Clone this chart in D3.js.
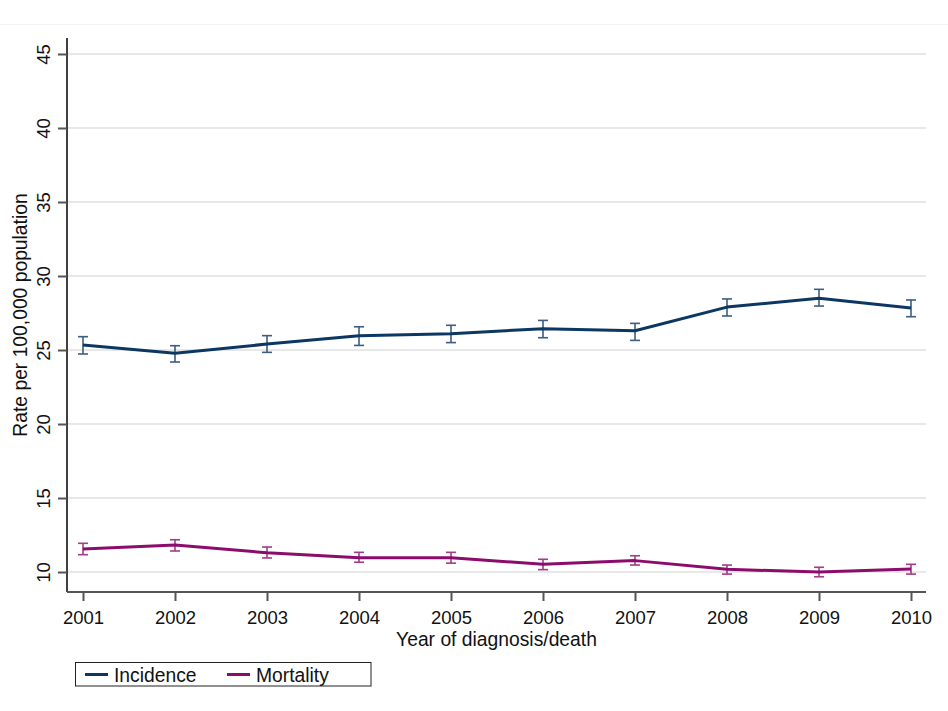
<!DOCTYPE html>
<html>
<head>
<meta charset="utf-8">
<script src="https://cdn.jsdelivr.net/npm/d3@7"></script>
<style>
  html, body { margin: 0; padding: 0; background: #fff; }
  svg { display: block; font-family: "Liberation Sans", Arial, sans-serif; }
</style>
</head>
<body>
<svg id="chart" width="948" height="711"></svg>
<script>
// Years on the x axis
const years = [2001, 2002, 2003, 2004, 2005, 2006, 2007, 2008, 2009, 2010];

// Incidence rate with 95% confidence limits
const incidence   = [25.34, 24.78, 25.40, 25.97, 26.10, 26.44, 26.30, 27.90, 28.50, 27.84];
const incidenceLo = [24.73, 24.19, 24.84, 25.31, 25.50, 25.83, 25.65, 27.30, 27.97, 27.25];
const incidenceHi = [25.90, 25.29, 25.97, 26.57, 26.67, 27.00, 26.80, 28.45, 29.10, 28.38];

// Mortality rate with 95% confidence limits
const mortality   = [11.55, 11.82, 11.30, 10.97, 10.97, 10.52, 10.77, 10.18, 10.00, 10.20];
const mortalityLo = [11.17, 11.42, 10.95, 10.66, 10.60, 10.16, 10.47, 9.86, 9.68, 9.86];
const mortalityHi = [11.94, 12.18, 11.69, 11.33, 11.33, 10.86, 11.10, 10.47, 10.32, 10.52];

const yTicks = [10, 15, 20, 25, 30, 35, 40, 45];
const seriesNames = ["Incidence", "Mortality"];
const seriesColors = ["#0c3762", "#8c0c6c"];

const svg = d3.select("#chart");

// Plot area
const plotLeft = 67, plotRight = 926, plotTop = 38, plotBottom = 592;

const x = d3.scaleLinear().domain([2001, 2010]).range([83, 911]);
const y = d3.scaleLinear().domain([8.65, 46.08]).range([plotBottom, plotTop]);

// faint outer frame line near the top
svg.append("line")
  .attr("x1", 0).attr("x2", 948).attr("y1", 24.5).attr("y2", 24.5)
  .attr("stroke", "#f3f3f3").attr("stroke-width", 1);

// gridlines
svg.append("g").selectAll("line").data(yTicks).join("line")
  .attr("x1", plotLeft).attr("x2", plotRight)
  .attr("y1", d => y(d)).attr("y2", d => y(d))
  .attr("stroke", "#e8e8e8").attr("stroke-width", 2);

// y axis
const yAxis = svg.append("g").attr("transform", `translate(${plotLeft},0)`)
  .call(d3.axisLeft(y).tickValues(yTicks).tickSize(9).tickPadding(0).tickFormat(d3.format("d")));
yAxis.select(".domain").attr("d", `M0,${plotTop}V${plotBottom}`).attr("stroke", "#000").attr("stroke-width", 1.5);
yAxis.selectAll(".tick line").attr("stroke", "#555").attr("stroke-width", 2);
yAxis.selectAll(".tick text")
  .attr("x", 0).attr("dy", null)
  .attr("transform", "translate(-17,0) rotate(-90)")
  .attr("text-anchor", "middle")
  .attr("font-size", 18.5).attr("fill", "#111");

// x axis
const xAxis = svg.append("g").attr("transform", `translate(0,${plotBottom})`)
  .call(d3.axisBottom(x).tickValues(years).tickSize(9).tickPadding(0).tickFormat(d3.format("d")));
xAxis.select(".domain").attr("d", `M${plotLeft},0H${plotRight}`).attr("stroke", "#555").attr("stroke-width", 2);
xAxis.selectAll(".tick line").attr("stroke", "#555").attr("stroke-width", 2);
xAxis.selectAll(".tick text")
  .attr("y", 32).attr("dy", null)
  .attr("font-size", 18.5).attr("fill", "#111");

svg.selectAll(".domain").attr("fill", "none");

// axis titles
svg.append("text")
  .attr("x", (plotLeft + plotRight) / 2).attr("y", 646)
  .attr("text-anchor", "middle").attr("font-size", 19.3).attr("fill", "#111")
  .text("Year of diagnosis/death");

svg.append("text")
  .attr("transform", `translate(27,${(plotTop + plotBottom) / 2}) rotate(-90)`)
  .attr("text-anchor", "middle").attr("font-size", 19.3).attr("fill", "#111")
  .text("Rate per 100,000 population");

// series
const series = [
  { vals: incidence, lo: incidenceLo, hi: incidenceHi },
  { vals: mortality, lo: mortalityLo, hi: mortalityHi }
];

const line = d3.line().x((d, i) => x(years[i])).y(d => y(d));

series.forEach((s, k) => {
  const color = seriesColors[k];
  const g = svg.append("g");
  // confidence interval bars with caps
  const eb = g.selectAll("g.eb").data(years).join("g").attr("class", "eb")
    .attr("stroke", color).attr("stroke-width", 1.6).attr("opacity", 0.8);
  eb.append("line")
    .attr("x1", d => x(d)).attr("x2", d => x(d))
    .attr("y1", (d, i) => y(s.lo[i])).attr("y2", (d, i) => y(s.hi[i]));
  eb.append("line")
    .attr("x1", d => x(d) - 5).attr("x2", d => x(d) + 5)
    .attr("y1", (d, i) => y(s.lo[i])).attr("y2", (d, i) => y(s.lo[i]));
  eb.append("line")
    .attr("x1", d => x(d) - 5).attr("x2", d => x(d) + 5)
    .attr("y1", (d, i) => y(s.hi[i])).attr("y2", (d, i) => y(s.hi[i]));
  // rate line
  g.append("path").datum(s.vals)
    .attr("d", line)
    .attr("fill", "none").attr("stroke", color)
    .attr("stroke-width", 3).attr("stroke-linejoin", "round");
});

// legend
const legend = svg.append("g");
legend.append("rect")
  .attr("x", 75.5).attr("y", 662.5).attr("width", 295.5).attr("height", 23.5)
  .attr("fill", "#fff").attr("stroke", "#222").attr("stroke-width", 1);
const legendItems = [
  { name: seriesNames[0], color: seriesColors[0], x0: 85 },
  { name: seriesNames[1], color: seriesColors[1], x0: 227 }
];
legendItems.forEach(it => {
  legend.append("line")
    .attr("x1", it.x0).attr("x2", it.x0 + 23)
    .attr("y1", 674.5).attr("y2", 674.5)
    .attr("stroke", it.color).attr("stroke-width", 3);
  legend.append("text")
    .attr("x", it.x0 + 29).attr("y", 681.5)
    .attr("font-size", 19.3).attr("fill", "#111")
    .text(it.name);
});
</script>
</body>
</html>
